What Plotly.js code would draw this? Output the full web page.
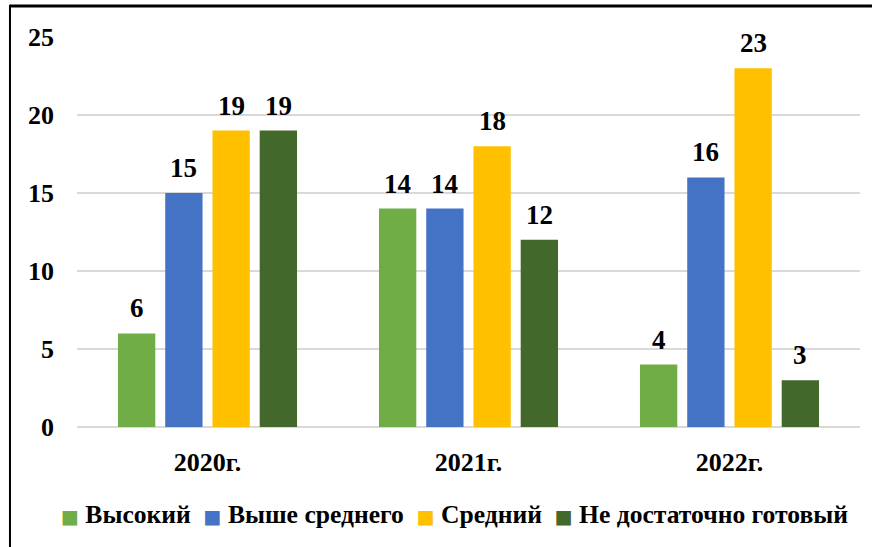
<!DOCTYPE html>
<html><head><meta charset="utf-8">
<script src="https://cdn.plot.ly/plotly-3.0.1.min.js"></script>
<style>html,body{margin:0;padding:0;background:#fff;}#chart{width:872px;height:547px;}</style>
</head><body><div id="chart"></div>
<script>
const categories = ['2020г.', '2021г.', '2022г.'];
const seriesNames = ['Высокий', 'Выше среднего', 'Средний', 'Не достаточно готовый'];
const high = [6, 14, 4];
const aboveAvg = [15, 14, 16];
const average = [19, 18, 23];
const notReady = [19, 12, 3];
const yTicks = [0, 5, 10, 15, 20, 25];
const colors = ['#70AD47', '#4472C4', '#FFC000', '#43682B'];
const seriesValues = [high, aboveAvg, average, notReady];
const font = 'Liberation Serif';
const slotPx = 47.3;

const traces = seriesValues.map((vals, i) => ({
  type: 'bar', name: seriesNames[i], x: categories, y: vals,
  marker: {color: colors[i]}, hoverinfo: 'none'
}));

const labelAnns = [];
seriesValues.forEach((vals, i) => {
  vals.forEach((v, k) => {
    labelAnns.push({x: categories[k], y: v, xref: 'x', yref: 'y', text: '<b>' + v + '</b>',
      showarrow: false, yanchor: 'bottom', xanchor: 'center', xshift: (i - 1.5) * slotPx, yshift: 8,
      font: {family: font, size: 27, color: '#000'}});
  });
});

const legendText = seriesNames.map((n, i) =>
  '<span style="color:' + colors[i] + ';font-family:DejaVu Sans;font-size:19px">■</span> ' + n).join(' &nbsp;');
labelAnns.push({xref: 'paper', yref: 'paper', x: 0.4815, y: -0.2256, xanchor: 'center', yanchor: 'middle',
  showarrow: false, text: '<b>' + legendText + '</b>', font: {family: font, size: 25.6, color: '#000'}});

const layout = {
  width: 872, height: 547,
  margin: {l: 77, r: 12, t: 37, b: 120},
  paper_bgcolor: '#fff', plot_bgcolor: '#fff',
  barmode: 'group', bargap: 0.276, bargroupgap: 0.21,
  font: {family: font, color: '#000'},
  showlegend: false,
  xaxis: {type: 'category', showgrid: false, zeroline: false, showline: false, ticks: '',
    tickfont: {family: font, size: 26, color: '#000', weight: 'bold'}, ticklabelstandoff: 17},
  yaxis: {range: [0, 25], tickvals: yTicks, ticktext: yTicks.map(String), showgrid: true,
    gridcolor: '#D9D9D9', gridwidth: 1.5, zeroline: true, zerolinecolor: '#D9D9D9', zerolinewidth: 2,
    showline: false, ticks: '', tickfont: {family: font, size: 26, color: '#000', weight: 'bold'}, ticklabelstandoff: 22},
  annotations: labelAnns,
  shapes: [
    {type: 'line', xref: 'paper', yref: 'paper', x0: -0.0856, x1: 1.0153, y0: 1.0795, y1: 1.0795, line: {color: '#000', width: 3}},
    {type: 'line', xref: 'paper', yref: 'paper', x0: -0.0856, x1: -0.0856, y0: 1.083, y1: -0.32, line: {color: '#000', width: 2}}
  ]
};
Plotly.newPlot('chart', traces, layout, {displayModeBar: false, staticPlot: true});
</script></body></html>
